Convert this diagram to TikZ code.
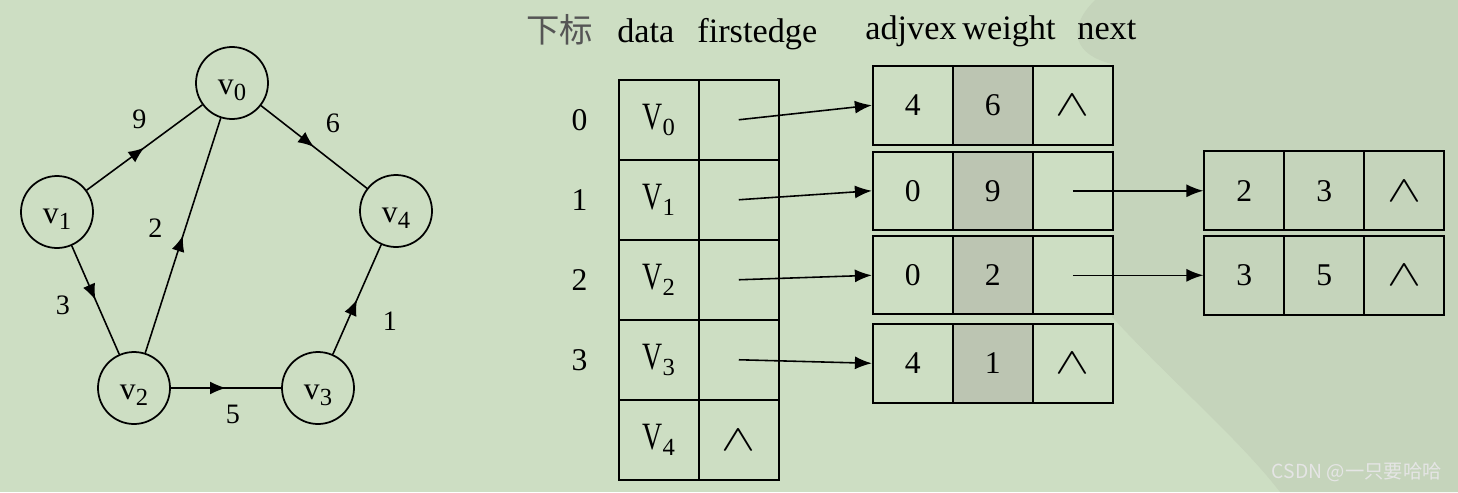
\documentclass[tikz,border=0pt]{standalone}
\usepackage{fontspec}
\usepackage{graphicx}
\setmainfont{Liberation Serif}
\newfontfamily\cjk{Noto Sans CJK SC}
\usetikzlibrary{matrix, positioning, arrows.meta, decorations.markings}
\definecolor{bggreen}{RGB}{205, 222, 195}
\definecolor{bgshade}{RGB}{197, 212, 187}
\definecolor{wgray}{RGB}{188, 197, 178}
\definecolor{inkgray}{RGB}{85, 85, 85}

\newcommand{\gv}[1]{\raisebox{-6.5pt}[0pt][0pt]{v\raisebox{-3.2pt}{\fontsize{14}{14}\selectfont #1}}}
\newcommand{\tv}[1]{{\fontsize{22}{22}\selectfont\scalebox{0.72}[1]{V}}\raisebox{-3.4pt}{\fontsize{14}{14}\selectfont #1}}
\newcommand{\nil}{{\fontsize{10}{10}\selectfont\scalebox{2.9}[2.1]{$\wedge$}}}

\begin{document}
\begin{tikzpicture}[
    vtx/.style={circle, draw, line width=1pt, minimum size=1.44cm, inner sep=0pt, font=\fontsize{18}{18}\selectfont},
    wlab/.style={inner sep=0pt, font=\fontsize{16}{16}\selectfont},
    midarr/.style={line width=0.9pt, postaction={decorate}, decoration={markings, mark=at position 0.5 with {\arrow{Latex[length=3.2mm, width=2.6mm]}}}},
    2d-arr/.style={matrix of nodes, inner sep=0pt, line width=1pt, row sep=-\pgflinewidth, column sep=-\pgflinewidth, nodes in empty cells, nodes={draw, anchor=center, line width=1pt, minimum width=1.6cm, minimum height=#1, inner sep=0pt, font=\fontsize{18}{18}\selectfont}},
    2d-arr/.default=1.6cm,
    ptr/.style={line width=0.9pt, -{Latex[length=3.4mm, width=2.6mm]}},
    hdr/.style={inner sep=0pt, anchor=base west, font=\fontsize{19.5}{19.5}\selectfont}
  ]

  \useasboundingbox (0,0) rectangle (29.16,-9.84);
  \fill[bggreen] (0,0) rectangle (29.16,-9.84);
  \fill[bgshade] (21.9,0) .. controls (21.3,-0.6) and (21.5,-1.1) .. (22.24,-1.28) -- (22.24,-6.34)
    .. controls (23.4,-7.6) and (24.8,-8.8) .. (25.6,-9.84) -- (29.16,-9.84) -- (29.16,0) -- cycle;

  % graph
  \node[vtx] (v0) at (4.64,-1.66) {\gv{0}};
  \node[vtx] (v1) at (1.14,-4.24) {\gv{1}};
  \node[vtx] (v4) at (7.92,-4.22) {\gv{4}};
  \node[vtx] (v2) at (2.68,-7.76) {\gv{2}};
  \node[vtx] (v3) at (6.36,-7.76) {\gv{3}};

  \draw[midarr] (v1) -- (v0);
  \draw[midarr] (v0) -- (v4);
  \draw[midarr] (v2) -- (v0);
  \draw[midarr] (v1) -- (v2);
  \draw[midarr] (v2) -- (v3);
  \draw[midarr] (v3) -- (v4);

  \node[wlab] (w9) at (2.79,-2.39) {9};
  \node[wlab] (w6) at (6.66,-2.47) {6};
  \node[wlab] (w2) at (3.11,-4.56) {2};
  \node[wlab] (w3) at (1.26,-6.10) {3};
  \node[wlab] (w5) at (4.66,-8.28) {5};
  \node[wlab] (w1) at (7.80,-6.42) {1};

  % adjacency list
  \node[hdr, font=\cjk\fontsize{19}{19}\selectfont, text=inkgray] (hidx) at (10.52,-0.84) {下标};
  \node[hdr] (hdata) at (12.34,-0.84) {data};
  \node[hdr] (hfirst) at (13.94,-0.84) {firstedge};
  \node[hdr] (hadj) at (17.30,-0.78) {adjvex};
  \node[hdr] (hwt) at (19.24,-0.78) {weight};
  \node[hdr] (hnext) at (21.54,-0.78) {next};

  \matrix (vtx) [2d-arr, anchor=north west] at (12.34,-1.56) {
  \tv{0} & \\
  \tv{1} & \\
  \tv{2} & \\
  \tv{3} & \\
  \tv{4} & \nil \\
  };

  \foreach \i [count=\r] in {0,...,3}
    \node[wlab, font=\fontsize{18}{18}\selectfont, left=0.6cm of vtx-\r-1] (idx\i) {\i};

  \matrix (e0) [2d-arr=1.58cm, anchor=north west] at (17.42,-1.28) {4 & |[fill=wgray]| 6 & \nil \\};
  \matrix (e1) [2d-arr=1.56cm, below=0.07cm of e0] {0 & |[fill=wgray]| 9 & \\};
  \matrix (e2) [2d-arr=1.56cm, below=0.06cm of e1] {0 & |[fill=wgray]| 2 & \\};
  \matrix (e3) [2d-arr=1.58cm, below=0.12cm of e2] {4 & |[fill=wgray]| 1 & \nil \\};
  \matrix (e1b) [2d-arr=1.58cm, right=1.76cm of e1] {2 & 3 & \nil \\};
  \matrix (e2b) [2d-arr=1.58cm, right=1.76cm of e2] {3 & 5 & \nil \\};

  \foreach \i [count=\r] in {0,...,3}
    \draw[ptr] (vtx-\r-2.center) -- (e\i-1-1.west);
  \draw[ptr] (e1-1-3.center) -- (e1b-1-1.west);
  \draw[ptr] (e2-1-3.center) -- (e2b-1-1.west);

  \node[inner sep=0pt, anchor=east, font=\cjk\fontsize{11}{11}\selectfont, text=white!80!gray] (csdn) at (28.84,-9.44) {CSDN @一只要哈哈};

\end{tikzpicture}
\end{document}
